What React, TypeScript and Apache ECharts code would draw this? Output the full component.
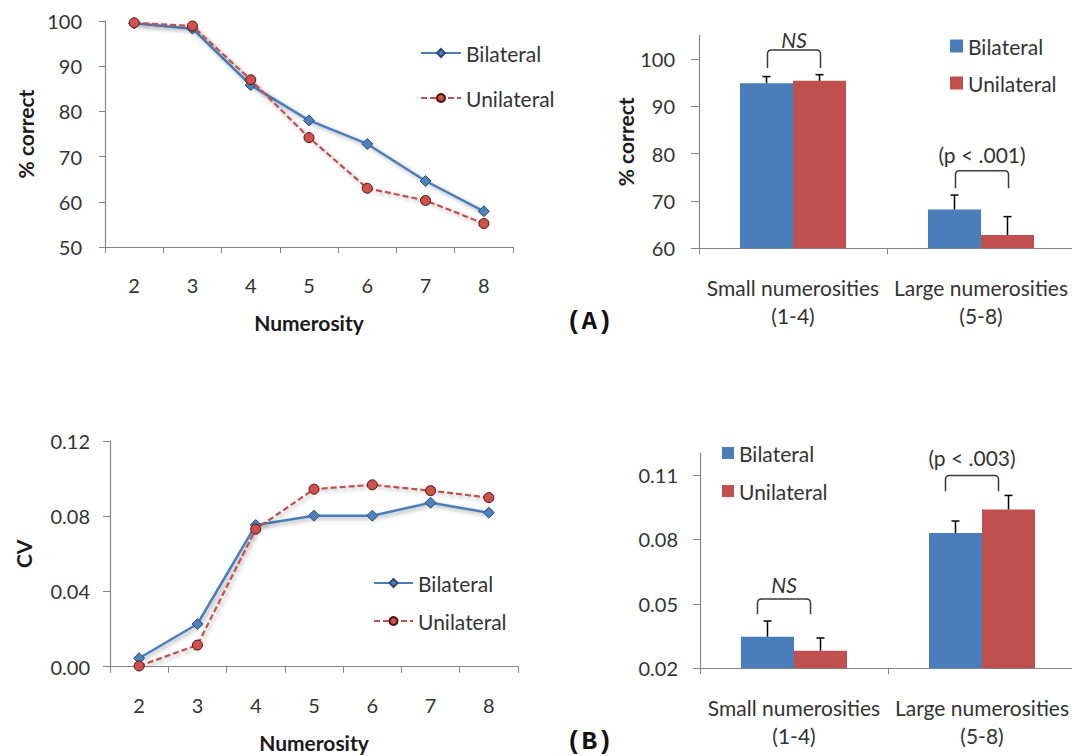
import React, { useEffect, useRef } from "react";
import * as echarts from "echarts";

// ---------- data ----------
const numerosities = ["2", "3", "4", "5", "6", "7", "8"];
const pctBilateral = [99.5, 98.3, 85.8, 78.0, 72.8, 64.6, 57.9];
const pctUnilateral = [99.6, 98.9, 87.0, 74.2, 63.0, 60.3, 55.2];
const cvBilateral = [0.0045, 0.0227, 0.0753, 0.0803, 0.0803, 0.0872, 0.0819];
const cvUnilateral = [0.0004, 0.0115, 0.0731, 0.0944, 0.0967, 0.0936, 0.0899];

const groups = ["Small numerosities\n(1-4)", "Large numerosities\n(5-8)"];
const barPctBilateral = [94.9, 68.2];
const barPctUnilateral = [95.4, 62.8];
const barPctBilateralErr = [1.4, 3.05];
const barPctUnilateralErr = [1.3, 3.9];
const barCvBilateral = [0.0347, 0.0829];
const barCvUnilateral = [0.0282, 0.0939];
const barCvBilateralErr = [0.0073, 0.0056];
const barCvUnilateralErr = [0.0059, 0.0065];

const pctLineTicks = [50, 60, 70, 80, 90, 100];
const cvLineTicks = [0, 0.04, 0.08, 0.12];
const barPctTicks = [60, 70, 80, 90, 100];
const barCvTicks = [0.02, 0.05, 0.08, 0.11];

// significance brackets: group index, leg bottom, bracket top, label centre (data units)
const sigPctGroups = [0, 1];
const sigPctLeg = [98.1, 72.7];
const sigPctTop = [101.9, 76.4];
const sigPctTextY = [104.2, 79.9];
const sigPctText = ["NS", "(p < .001)"];

const sigCvGroups = [0, 1];
const sigCvLeg = [0.0451, 0.1024];
const sigCvTop = [0.0522, 0.1097];
const sigCvTextY = [0.0591, 0.1179];
const sigCvText = ["NS", "(p < .003)"];

// ---------- styles ----------
const BLUE = "#4a7ebb";
const RED = "#c0504d";
const AXIS = "#868686";
const LABEL = "#333333";
const FONT = "Lato";
const BAR_CAT_GAP = 0.436;

const shadow = {
  shadowColor: "rgba(0,0,0,0.35)",
  shadowBlur: 4,
  shadowOffsetX: 2,
  shadowOffsetY: 2,
};

function App() {
  const ref = useRef<HTMLDivElement>(null);

  useEffect(() => {
    if (!ref.current) return;
    const chart = echarts.init(ref.current, null, { renderer: "svg" });

    const labelStyle = { color: LABEL, fontFamily: FONT, fontSize: 20 };
    const textStyle21 = { color: LABEL, fontFamily: FONT, fontSize: 21 };
    const nameStyle = { color: "#1a1a1a", fontFamily: FONT, fontSize: 21, fontWeight: "bold" as const };

    const errorSeries = (
      xi: number,
      b: number[],
      be: number[],
      u: number[],
      ue: number[]
    ) => ({
      type: "custom",
      xAxisIndex: xi,
      yAxisIndex: xi,
      z: 5,
      silent: true,
      data: [
        ...b.map((v, i) => [i, v, v + be[i], 0]),
        ...u.map((v, i) => [i, v, v + ue[i], 1]),
      ],
      renderItem: (params: any, api: any) => {
        const cat = api.value(0);
        const v = api.value(1);
        const t = api.value(2);
        const side = api.value(3);
        const band = api.size([1, 0])[0];
        const barW = (band * (1 - BAR_CAT_GAP)) / 2;
        const p0 = api.coord([cat, v]);
        const p1 = api.coord([cat, t]);
        const x = p0[0] + (side - 0.5) * barW;
        const st = { stroke: "#000", lineWidth: 1.5 };
        return {
          type: "group",
          children: [
            { type: "line", shape: { x1: x, y1: p0[1], x2: x, y2: p1[1] }, style: st },
            { type: "line", shape: { x1: x - 4, y1: p1[1], x2: x + 4, y2: p1[1] }, style: st },
          ],
        };
      },
    });

    const bracketSeries = (
      xi: number,
      gs: number[],
      legs: number[],
      tops: number[],
      ty: number[],
      texts: string[],
      shift: number
    ) => ({
      type: "custom",
      xAxisIndex: xi,
      yAxisIndex: xi,
      z: 6,
      silent: true,
      data: gs.map((g, i) => [g, legs[i], tops[i], ty[i]]),
      renderItem: (params: any, api: any) => {
        const cat = api.value(0);
        const band = api.size([1, 0])[0];
        const barW = (band * (1 - BAR_CAT_GAP)) / 2;
        const leg = api.coord([cat, api.value(1)]);
        const top = api.coord([cat, api.value(2)]);
        const tc = api.coord([cat, api.value(3)]);
        const xL = top[0] - barW / 2 + shift;
        const xR = top[0] + barW / 2 + shift;
        const yT = top[1];
        const yL = leg[1];
        const r = 4;
        const d = `M${xL},${yL} L${xL},${yT + r} Q${xL},${yT} ${xL + r},${yT} L${xR - r},${yT} Q${xR},${yT} ${xR},${yT + r} L${xR},${yL}`;
        const txt = texts[params.dataIndex];
        return {
          type: "group",
          children: [
            {
              type: "path",
              shape: { pathData: d },
              style: { stroke: "#3a3a3a", fill: "none", lineWidth: 1.5 },
            },
            {
              type: "text",
              x: (xL + xR) / 2,
              y: tc[1],
              style: {
                text: txt,
                fill: "#333",
                fontFamily: FONT,
                fontSize: 21,
                fontStyle: txt === "NS" ? "italic" : "normal",
                align: "center",
                verticalAlign: "middle",
              },
            },
          ],
        };
      },
    });

    const lineSeries = (xi: number, name: string, data: number[], bil: boolean) => ({
      type: "line",
      name,
      xAxisIndex: xi,
      yAxisIndex: xi,
      data,
      symbol: bil ? "diamond" : "circle",
      symbolSize: bil ? 11 : 10,
      lineStyle: {
        color: bil ? BLUE : RED,
        width: bil ? 2.5 : 2.2,
        type: bil ? "solid" : [6, 3],
        ...shadow,
      },
      itemStyle: {
        color: bil ? "#4f81bd" : "#d0504d",
        borderColor: bil ? "#2b4a73" : "#4a1414",
        borderWidth: 1,
      },
      z: bil ? 3 : 4,
    });

    const barSeries = (xi: number, name: string, data: number[], bil: boolean) => ({
      type: "bar",
      name,
      xAxisIndex: xi,
      yAxisIndex: xi,
      data,
      barGap: "0%",
      barCategoryGap: `${BAR_CAT_GAP * 100}%`,
      itemStyle: { color: bil ? BLUE : RED },
    });

    const catAxisLine = (gi: number, name: string) => ({
      type: "category",
      gridIndex: gi,
      data: numerosities,
      boundaryGap: true,
      axisLine: { lineStyle: { color: AXIS, width: 1.2 } },
      axisTick: { show: true, length: 6, lineStyle: { color: AXIS } },
      axisLabel: { ...labelStyle, margin: 28, interval: 0 },
      name,
      nameLocation: "middle",
      nameGap: 65,
      nameTextStyle: nameStyle,
    });

    const catAxisBar = (gi: number) => ({
      type: "category",
      gridIndex: gi,
      data: groups,
      boundaryGap: true,
      axisLine: { lineStyle: { color: AXIS, width: 1.2 } },
      axisTick: { show: true, length: 6, interval: 0, lineStyle: { color: AXIS } },
      axisLabel: { ...textStyle21, margin: 25, lineHeight: 28, interval: 0, hideOverlap: false },
    });

    const legendFmt = (n: string) => n.split("|")[0];

    const option: any = {
      animation: false,
      backgroundColor: "#fff",
      textStyle: { fontFamily: FONT },
      grid: [
        { left: 105, top: 21, width: 408, height: 226, outerBoundsMode: "none" },
        { left: 699, top: 35.4, width: 376, height: 212.9, outerBoundsMode: "none" },
        { left: 110, top: 441, width: 408, height: 225.7, outerBoundsMode: "none" },
        { left: 700, top: 453.3, width: 376, height: 215, outerBoundsMode: "none" },
      ],
      xAxis: [catAxisLine(0, "Numerosity"), catAxisBar(1), catAxisLine(2, "Numerosity"), catAxisBar(3)],
      yAxis: [
        {
          type: "value",
          gridIndex: 0,
          min: pctLineTicks[0],
          max: pctLineTicks[pctLineTicks.length - 1],
          interval: 10,
          splitLine: { show: false },
          axisLine: { show: true, lineStyle: { color: AXIS, width: 1.2 } },
          axisTick: { show: true, length: 6, lineStyle: { color: AXIS } },
          axisLabel: { ...labelStyle, margin: 23 },
          name: "% correct",
          nameLocation: "middle",
          nameGap: 69,
          nameTextStyle: nameStyle,
        },
        {
          type: "value",
          gridIndex: 1,
          min: 60,
          max: 105,
          splitLine: { show: false },
          axisLine: { show: true, lineStyle: { color: AXIS, width: 1.2 } },
          axisTick: { show: true, length: 8, lineStyle: { color: AXIS }, customValues: barPctTicks },
          axisLabel: { ...labelStyle, margin: 24, customValues: barPctTicks },
          name: "% correct",
          nameLocation: "middle",
          nameGap: 59,
          nameTextStyle: nameStyle,
        },
        {
          type: "value",
          gridIndex: 2,
          min: cvLineTicks[0],
          max: cvLineTicks[cvLineTicks.length - 1],
          interval: 0.04,
          splitLine: { show: false },
          axisLine: { show: true, lineStyle: { color: AXIS, width: 1.2 } },
          axisTick: { show: true, length: 7, lineStyle: { color: AXIS } },
          axisLabel: { ...labelStyle, margin: 20, formatter: (v: number) => v.toFixed(2) },
          name: "CV",
          nameLocation: "middle",
          nameGap: 76,
          nameTextStyle: nameStyle,
        },
        {
          type: "value",
          gridIndex: 3,
          min: 0.02,
          max: 0.12,
          splitLine: { show: false },
          axisLine: { show: true, lineStyle: { color: AXIS, width: 1.2 } },
          axisTick: { show: true, length: 7, lineStyle: { color: AXIS }, customValues: barCvTicks },
          axisLabel: {
            ...labelStyle,
            margin: 22,
            customValues: barCvTicks,
            formatter: (v: number) => v.toFixed(2),
          },
        },
      ],
      legend: [
        {
          orient: "vertical",
          left: 420,
          top: 42,
          padding: 0,
          itemGap: 23,
          itemWidth: 40,
          itemHeight: 10,
          data: ["Bilateral|a", "Unilateral|a"],
          formatter: legendFmt,
          textStyle: { ...textStyle21, lineHeight: 22 },
        },
        {
          orient: "vertical",
          left: 950,
          top: 35,
          padding: 0,
          itemGap: 15,
          itemWidth: 13,
          itemHeight: 13,
          icon: "rect",
          data: ["Bilateral|b", "Unilateral|b"],
          formatter: legendFmt,
          textStyle: { ...textStyle21, lineHeight: 22 },
        },
        {
          orient: "vertical",
          left: 373,
          top: 572,
          padding: 0,
          itemGap: 16,
          itemWidth: 39,
          itemHeight: 10,
          data: ["Bilateral|c", "Unilateral|c"],
          formatter: legendFmt,
          textStyle: { ...textStyle21, lineHeight: 22 },
        },
        {
          orient: "vertical",
          left: 722,
          top: 442,
          padding: 0,
          itemGap: 16,
          itemWidth: 12,
          itemHeight: 12,
          icon: "rect",
          data: ["Bilateral|d", "Unilateral|d"],
          formatter: legendFmt,
          textStyle: { ...textStyle21, lineHeight: 22 },
        },
      ],
      graphic: [
        {
          type: "text",
          left: 566,
          top: 309,
          style: { text: "(A)", fontFamily: "Liberation Mono", fontWeight: "bold", fontSize: 26, fill: "#111" },
        },
        {
          type: "text",
          left: 566,
          top: 729,
          style: { text: "(B)", fontFamily: "Liberation Mono", fontWeight: "bold", fontSize: 26, fill: "#111" },
        },
      ],
      series: [
        lineSeries(0, "Bilateral|a", pctBilateral, true),
        lineSeries(0, "Unilateral|a", pctUnilateral, false),
        barSeries(1, "Bilateral|b", barPctBilateral, true),
        barSeries(1, "Unilateral|b", barPctUnilateral, false),
        errorSeries(1, barPctBilateral, barPctBilateralErr, barPctUnilateral, barPctUnilateralErr),
        bracketSeries(1, sigPctGroups, sigPctLeg, sigPctTop, sigPctTextY, sigPctText, 1),
        lineSeries(2, "Bilateral|c", cvBilateral, true),
        lineSeries(2, "Unilateral|c", cvUnilateral, false),
        barSeries(3, "Bilateral|d", barCvBilateral, true),
        barSeries(3, "Unilateral|d", barCvUnilateral, false),
        errorSeries(3, barCvBilateral, barCvBilateralErr, barCvUnilateral, barCvUnilateralErr),
        bracketSeries(3, sigCvGroups, sigCvLeg, sigCvTop, sigCvTextY, sigCvText, -10),
      ],
    };

    chart.setOption(option);
    return () => chart.dispose();
  }, []);

  return (
    <div
      ref={ref}
      style={{ position: "fixed", left: 0, top: 0, width: 1072, height: 756, background: "#fff" }}
    />
  );
}

export default App;
